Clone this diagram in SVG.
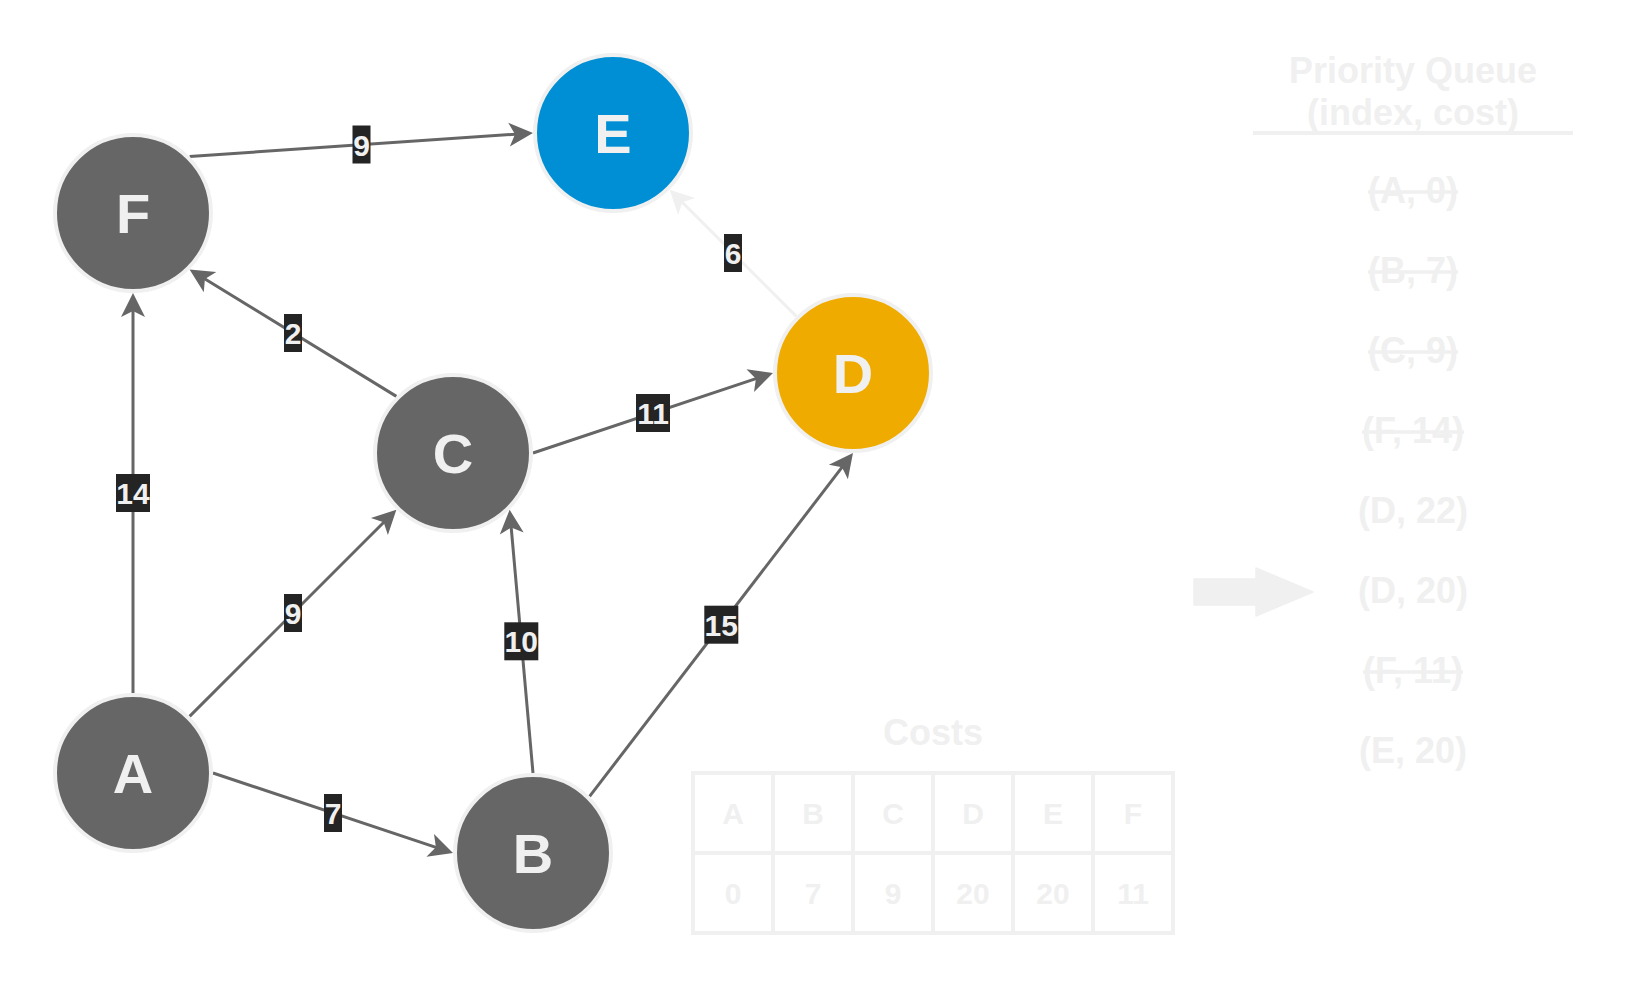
<svg xmlns="http://www.w3.org/2000/svg" width="1626" height="986" viewBox="0 0 1626 986">
<style>
text{font-family:"Liberation Sans",Arial,sans-serif;font-weight:bold;text-anchor:middle}
.node circle{stroke:#f0f0f0;stroke-width:4}
.node text{font-size:56px;fill:#f0f0f0}
.gray{fill:#666666}
.edge{stroke:#666666;stroke-width:3;fill:none;marker-end:url(#ah)}
.edge.light{stroke:#f0f0f0;marker-end:url(#ahl)}
.lbl rect{fill:#242424}
.lbl text{font-size:30px;fill:#f0f0f0}
.pq{font-size:36px;fill:#f0f0f0}
.strike{text-decoration:line-through}
.tbl{fill:none;stroke:#f0f0f0;stroke-width:4}
.cell{font-size:30px;fill:#f0f0f0}
</style>
<defs>
<marker id="ah" markerUnits="userSpaceOnUse" markerWidth="30" markerHeight="30" refX="0" refY="0" orient="auto" overflow="visible">
<path d="M-14,-12 L10,0 L-14,12 L-8,0 Z" fill="#666666"/>
</marker>
<marker id="ahl" markerUnits="userSpaceOnUse" markerWidth="30" markerHeight="30" refX="0" refY="0" orient="auto" overflow="visible">
<path d="M-14,-12 L10,0 L-14,12 L-8,0 Z" fill="#f0f0f0"/>
</marker>
</defs>
<rect width="1626" height="986" fill="#ffffff"/>

<g id="connectors">
<g id="edge-F-E"><line class="edge" x1="189.6" y1="156.4" x2="523" y2="133.7"/><g class="lbl"><rect x="352.5" y="125.5" width="18" height="38"/><text x="361.5" y="155.5">9</text></g></g>
<g id="edge-D-E"><line class="edge light" x1="796.4" y1="316.4" x2="676.7" y2="196.7"/><g class="lbl"><rect x="724" y="234" width="18" height="38"/><text x="733" y="264">6</text></g></g>
<g id="edge-C-F"><line class="edge" x1="396.4" y1="396.4" x2="198.1" y2="274.8"/><g class="lbl"><rect x="284" y="314" width="18" height="38"/><text x="293" y="344">2</text></g></g>
<g id="edge-C-D"><line class="edge" x1="533" y1="453" x2="763.5" y2="376.2"/><g class="lbl"><rect x="636" y="394" width="34" height="38"/><text x="653" y="424">11</text></g></g>
<g id="edge-A-F"><line class="edge" x1="133" y1="693" x2="133" y2="303"/><g class="lbl"><rect x="116" y="474" width="34" height="38"/><text x="133" y="504">14</text></g></g>
<g id="edge-A-C"><line class="edge" x1="189.6" y1="716.4" x2="389.3" y2="516.7"/><g class="lbl"><rect x="284" y="594" width="18" height="38"/><text x="293" y="624">9</text></g></g>
<g id="edge-A-B"><line class="edge" x1="213" y1="773" x2="443.5" y2="849.8"/><g class="lbl"><rect x="324" y="794" width="18" height="38"/><text x="333" y="824">7</text></g></g>
<g id="edge-B-C"><line class="edge" x1="533" y1="773" x2="510.5" y2="519.6"/><g class="lbl"><rect x="504.3" y="622.3" width="34" height="38"/><text x="521.3" y="652.3">10</text></g></g>
<g id="edge-B-D"><line class="edge" x1="589.6" y1="796.4" x2="846.9" y2="460.9"/><g class="lbl"><rect x="704.3" y="605.7" width="34" height="38"/><text x="721.3" y="635.7">15</text></g></g>
</g>

<g id="node-F" class="node"><circle class="gray" cx="133" cy="213" r="78"/><text x="133" y="233">F</text></g>
<g id="node-E" class="node"><circle cx="613" cy="133" r="78" fill="#008fd5"/><text x="613" y="153">E</text></g>
<g id="node-D" class="node"><circle cx="853" cy="373" r="78" fill="#f0ab00"/><text x="853" y="393">D</text></g>
<g id="node-C" class="node"><circle class="gray" cx="453" cy="453" r="78"/><text x="453" y="473">C</text></g>
<g id="node-A" class="node"><circle class="gray" cx="133" cy="773" r="78"/><text x="133" y="793">A</text></g>
<g id="node-B" class="node"><circle class="gray" cx="533" cy="853" r="78"/><text x="533" y="873">B</text></g>

<g id="priority-queue">
<text class="pq" x="1413" y="83">Priority Queue</text>
<text class="pq" x="1413" y="125">(index, cost)</text>
<line x1="1253" y1="133" x2="1573" y2="133" stroke="#f0f0f0" stroke-width="4"/>
<text class="pq strike" x="1413" y="203">(A, 0)</text>
<text class="pq strike" x="1413" y="283">(B, 7)</text>
<text class="pq strike" x="1413" y="363">(C, 9)</text>
<text class="pq strike" x="1413" y="443">(F, 14)</text>
<text class="pq" x="1413" y="523">(D, 22)</text>
<text class="pq" x="1413" y="603">(D, 20)</text>
<text class="pq strike" x="1413" y="683">(F, 11)</text>
<text class="pq" x="1413" y="763">(E, 20)</text>
</g>

<g id="pointer-arrow">
<path d="M1194,579 L1256,579 L1256,568 L1313,592 L1256,616 L1256,605 L1194,605 Z" fill="#f0f0f0" stroke="#f0f0f0" stroke-width="1.5" stroke-linejoin="round"/>
</g>

<g id="costs-table">
<text class="pq" x="933" y="745">Costs</text>
<rect class="tbl" x="693" y="773" width="480" height="160"/>
<path class="tbl" d="M773,773V933M853,773V933M933,773V933M1013,773V933M1093,773V933M693,853H1173"/>
<text class="cell" x="733" y="824">A</text>
<text class="cell" x="813" y="824">B</text>
<text class="cell" x="893" y="824">C</text>
<text class="cell" x="973" y="824">D</text>
<text class="cell" x="1053" y="824">E</text>
<text class="cell" x="1133" y="824">F</text>
<text class="cell" x="733" y="904">0</text>
<text class="cell" x="813" y="904">7</text>
<text class="cell" x="893" y="904">9</text>
<text class="cell" x="973" y="904">20</text>
<text class="cell" x="1053" y="904">20</text>
<text class="cell" x="1133" y="904">11</text>
</g>
</svg>
